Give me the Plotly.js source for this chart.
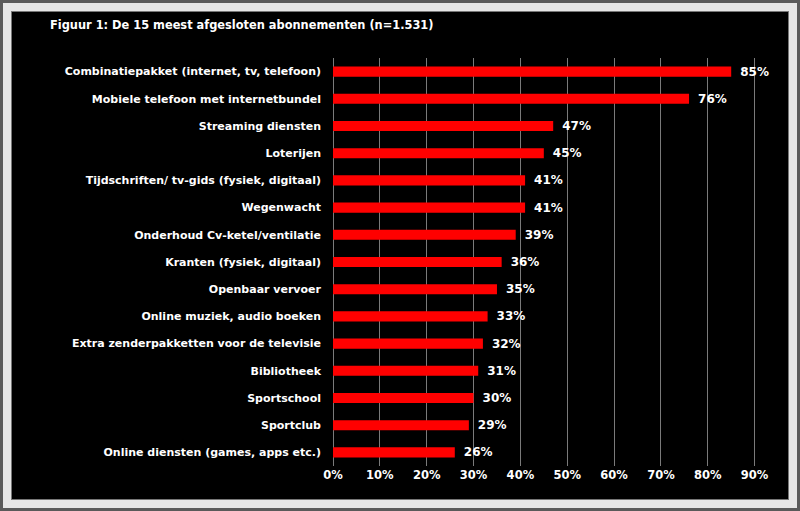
<!DOCTYPE html>
<html>
<head>
<meta charset="utf-8">
<script src="https://cdn.plot.ly/plotly-3.0.1.min.js"></script>
<style>
html,body{margin:0;padding:0;}
body{width:800px;height:511px;background:#5a5a5a;position:relative;overflow:hidden;}
#frame{position:absolute;left:3px;top:3px;width:794px;height:505px;background:#e6e6e6;}
#plot{position:absolute;left:12px;top:12px;width:776px;height:487px;background:#000;box-shadow:0 0 0 1px #777;}
</style>
</head>
<body>
<div id="frame"></div>
<div id="plot"></div>
<script>
const categories = [
  "Combinatiepakket (internet, tv, telefoon)",
  "Mobiele telefoon met internetbundel",
  "Streaming diensten",
  "Loterijen",
  "Tijdschriften/ tv-gids (fysiek, digitaal)",
  "Wegenwacht",
  "Onderhoud Cv-ketel/ventilatie",
  "Kranten (fysiek, digitaal)",
  "Openbaar vervoer",
  "Online muziek, audio boeken",
  "Extra zenderpakketten voor de televisie",
  "Bibliotheek",
  "Sportschool",
  "Sportclub",
  "Online diensten (games, apps etc.)"
];
const values = [85, 76, 47, 45, 41, 41, 39, 36, 35, 33, 32, 31, 30, 29, 26];
const valueLabels = values.map(v => "\u2002" + v + "%");
const tickValues = [0,10,20,30,40,50,60,70,80,90];
const tickLabels = tickValues.map(v => v + "%");
const titleText = "Figuur 1: De 15 meest afgesloten abonnementen (n=1.531)";

const font = "DejaVu Sans, Verdana, sans-serif";

const trace = {
  type: "bar",
  orientation: "h",
  x: values,
  y: categories,
  marker: {color: "#ff0000", line: {width: 0}},
  text: valueLabels,
  textposition: "outside",
  constraintext: "none",
  cliponaxis: false,
  textfont: {family: font, size: 12, color: "#ffffff", weight: "bold"},
  hoverinfo: "none"
};

const layout = {
  width: 776,
  height: 487,
  paper_bgcolor: "#000000",
  plot_bgcolor: "#000000",
  margin: {l: 321, r: 24, t: 46, b: 33, pad: 0},
  bargap: 0.63,
  showlegend: false,
  font: {family: font, color: "#ffffff", size: 11, weight: "bold"},
  title: {
    text: titleText,
    font: {family: font, size: 11.4, color: "#ffffff", weight: "bold"},
    xref: "container", x: 38/776, xanchor: "left",
    yref: "container", y: 1 - 13/487, yanchor: "middle"
  },
  xaxis: {
    range: [0, 92],
    tickvals: tickValues,
    ticktext: tickLabels,
    showgrid: true,
    gridcolor: "#7a7a7a",
    gridwidth: 1,
    zeroline: true,
    zerolinecolor: "#7a7a7a",
    zerolinewidth: 1,
    showline: false,
    ticks: "",
    tickfont: {family: font, size: 11.5, color: "#ffffff", weight: "bold"},
    fixedrange: true
  },
  yaxis: {
    type: "category",
    autorange: "reversed",
    showgrid: false,
    zeroline: false,
    showline: false,
    ticks: "",
    ticklabelstandoff: 11,
    tickfont: {family: font, size: 11, color: "#ffffff", weight: "bold"},
    fixedrange: true
  }
};

Plotly.newPlot("plot", [trace], layout, {displayModeBar: false, staticPlot: true});
</script>
</body>
</html>
